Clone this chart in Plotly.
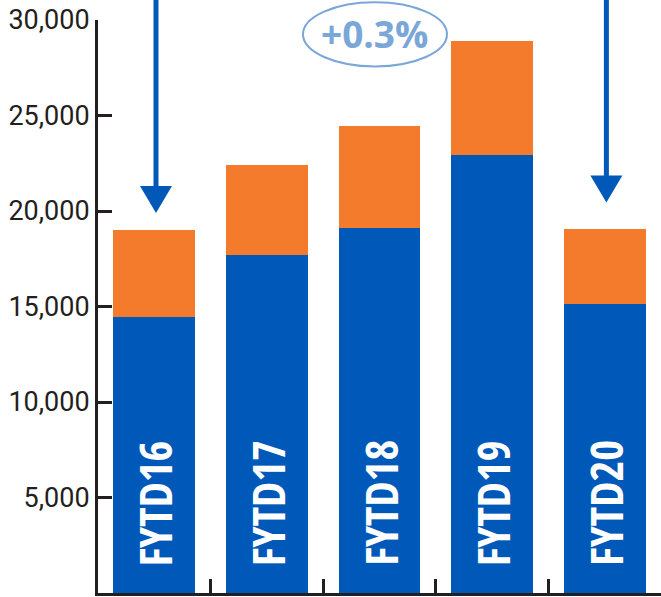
import plotly.graph_objects as go

categories = ["FYTD16", "FYTD17", "FYTD18", "FYTD19", "FYTD20"]
blue_values = [14450, 17700, 19100, 22950, 15150]
orange_values = [4550, 4700, 5350, 5950, 3900]
ytick_vals = [5000, 10000, 15000, 20000, 25000, 30000]
ytick_text = ["5,000", "10,000", "15,000", "20,000", "25,000", "30,000"]
change_label = "+0.3%"
arrow_categories = [0, 4]
arrow_tips = [19900, 20450]

BLUE = "#0059b9"
ORANGE = "#f47a2c"
LIGHT = "#7aa6d8"
DARK = "#231f20"
YMAX = 30000
n = len(categories)

fig = go.Figure()
fig.add_trace(go.Bar(x=categories, y=blue_values, marker=dict(color=BLUE, line=dict(width=0)),
                     hoverinfo="skip"))
fig.add_trace(go.Bar(x=categories, y=orange_values, marker=dict(color=ORANGE, line=dict(width=0)),
                     hoverinfo="skip"))

# vertical labels inside bars
for c in categories:
    fig.add_annotation(x=c, y=0, xref="x", yref="y", text=f"<b>{c}</b>", showarrow=False,
                       textangle=-90, yanchor="bottom", xanchor="center", yshift=25,
                       font=dict(family="'Open Sans Condensed', 'Roboto Condensed', sans-serif",
                                 size=45, color="white"))

def px_x(i):
    return (i + 0.5) / n

shapes = []
for i, tip in zip(arrow_categories, arrow_tips):
    xc = px_x(i) + 0.003
    tip_p = tip / YMAX
    head_h = 27 / 573
    head_w = 16 / 563
    shapes.append(dict(type="line", xref="paper", yref="paper", x0=xc, x1=xc,
                       y0=1.06, y1=tip_p + head_h * 0.7, line=dict(color=BLUE, width=5)))
    shapes.append(dict(type="path", xref="paper", yref="paper",
                       path=f"M {xc - head_w} {tip_p + head_h} L {xc + head_w} {tip_p + head_h} L {xc} {tip_p} Z",
                       fillcolor=BLUE, line=dict(width=0)))
fig.update_layout(shapes=shapes)

# oval with change label
ox = px_x(2) - 0.008
fig.add_shape(type="circle", xref="paper", yref="paper",
              x0=ox - 72 / 563, x1=ox + 72 / 563, y0=0.919, y1=1.031,
              line=dict(color=LIGHT, width=2), fillcolor="rgba(0,0,0,0)")
fig.add_annotation(x=ox, y=0.976, xref="paper", yref="paper", text=f"<b>{change_label}</b>",
                   showarrow=False, xanchor="center", yanchor="middle",
                   font=dict(family="Open Sans, sans-serif", size=37, color=LIGHT))

fig.update_layout(
    width=661, height=597,
    margin=dict(l=98, r=0, t=20, b=4),
    paper_bgcolor="white", plot_bgcolor="white",
    barmode="stack", bargap=0.272, showlegend=False,
    xaxis=dict(range=[-0.5, n - 0.5], showticklabels=False, ticks="inside", ticklen=14,
               tickwidth=2.5, tickcolor=DARK, tickson="boundaries", showline=True,
               linecolor=DARK, linewidth=3, showgrid=False, zeroline=False, fixedrange=True),
    yaxis=dict(range=[0, YMAX], tickvals=ytick_vals, ticktext=ytick_text, ticks="inside",
               ticklen=14, tickwidth=2.5, tickcolor=DARK, showline=True, linecolor=DARK,
               linewidth=3, showgrid=False, zeroline=False, fixedrange=True,
               tickfont=dict(family="Roboto, sans-serif", size=27, color=DARK)),
)

fig.write_html("out.html", config={"displayModeBar": False})

with open("out.html", encoding="utf-8") as f:
    html = f.read()
html = html.replace("<head>", "<head><style>html,body{margin:0;padding:0;overflow:hidden;}</style>", 1)
with open("out.html", "w", encoding="utf-8") as f:
    f.write(html)
